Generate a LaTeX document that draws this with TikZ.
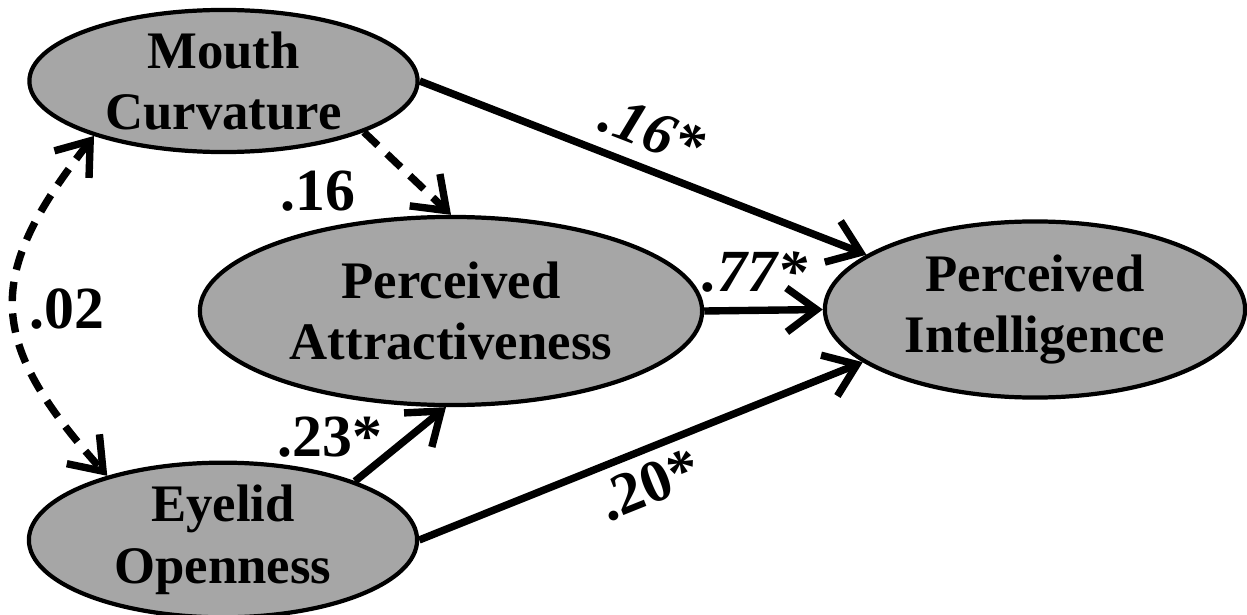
\documentclass[tikz,border=0pt]{standalone}
\usepackage{fontspec}
\setmainfont{Liberation Serif}
\usetikzlibrary{shapes.geometric,arrows.meta}
\definecolor{ellgray}{RGB}{166,166,166}
\begin{document}
\begin{tikzpicture}[x=0.01cm,y=-0.01cm,
  latent/.style={ellipse, draw=black, line width=1.2pt, fill=ellgray, inner sep=0pt,
    align=center, font=\fontsize{15}{17.5}\selectfont\bfseries},
  effect/.style={line width=2.1pt, -{Straight Barb[length=8.5pt,width=12.5pt]}},
  dasheffect/.style={effect, dash pattern=on 5.5pt off 3.5pt},
  dashboth/.style={line width=2.1pt, dash pattern=on 5.5pt off 3.5pt,
    {Straight Barb[length=8.5pt,width=12.5pt]}-{Straight Barb[length=8.5pt,width=12.5pt]}},
  coef/.style={font=\fontsize{17}{20}\selectfont\bfseries, inner sep=1pt},
  coefi/.style={font=\fontsize{17}{20}\selectfont\bfseries\itshape, inner sep=1pt}]
\useasboundingbox (0,0) rectangle (1247,615);

\node[latent, minimum width=3.88cm, minimum height=1.42cm] (MC) at (223.5,81) {Mouth\\Curvature};
\node[latent, minimum width=3.88cm, minimum height=1.46cm] (EO) at (223,540) {Eyelid\\Openness};
\node[latent, minimum width=5.02cm, minimum height=1.88cm] (PA) at (451,311) {Perceived\\Attractiveness};
\node[latent, minimum width=4.20cm, minimum height=1.76cm] (PI) at (1035,309.5) {Perceived\\Intelligence};

\draw[effect] (MC.east) -- (PI.162) node[coefi, sloped, above=3pt, pos=0.49] (l16s) {.16*};
\draw[effect] (EO.east) -- (PI.-163) node[coef, sloped, below=2pt, pos=0.49] (l20) {.20*};
\draw[effect] (PA.east) -- (PI.west);
\draw[effect] (EO.24) -- (PA.-93);
\draw[dasheffect] (MC.-20) -- (PA.north);
\draw[dashboth] (MC.203) .. controls (-15,275) and (-15,340) .. (EO.151);

\node[coef] (l16) at (318,191) {.16};
\node[coef] (l02) at (67,309) {.02};
\node[coef] (l23) at (330,437) {.23*};
\node[coefi] (l77) at (755,272) {.77*};
\end{tikzpicture}
\end{document}
